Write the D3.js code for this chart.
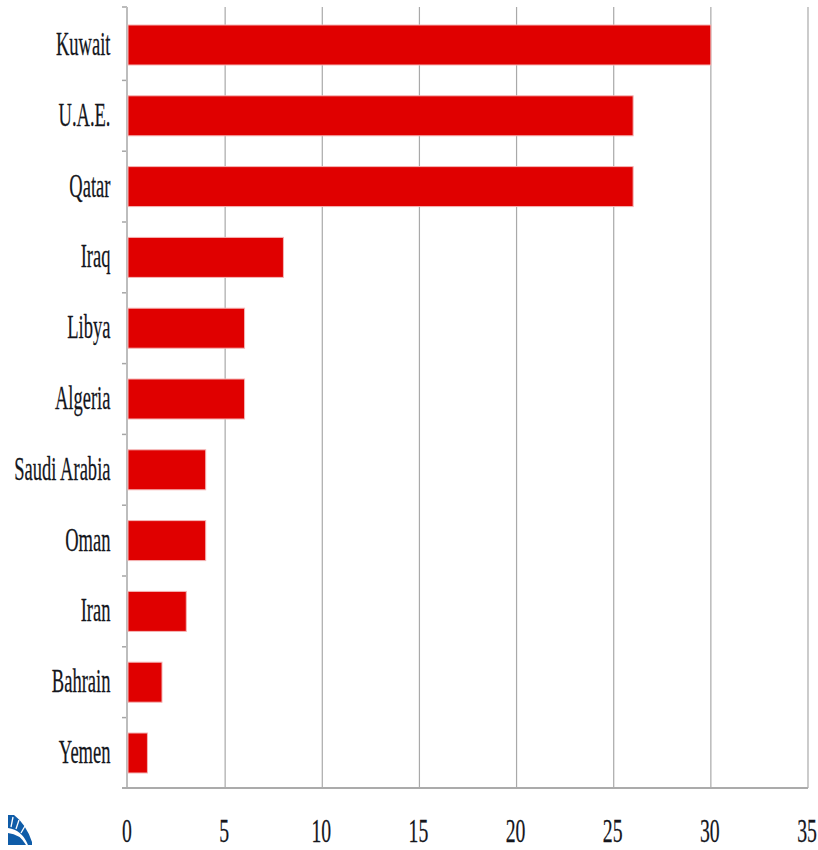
<!DOCTYPE html>
<html>
<head>
<meta charset="utf-8">
<script src="https://cdn.jsdelivr.net/npm/d3@7"></script>
<style>
  html, body { margin: 0; padding: 0; background: #fff; }
  svg { display: block; }
  text { font-family: "Liberation Serif", serif; fill: #14161c; stroke: #14161c; stroke-width: 0.25; }
</style>
</head>
<body>
<svg id="chart" width="818" height="850"></svg>
<script>
const countries = ["Kuwait", "U.A.E.", "Qatar", "Iraq", "Libya", "Algeria", "Saudi Arabia", "Oman", "Iran", "Bahrain", "Yemen"];
const values = [30, 26, 26, 8, 6, 6, 4, 4, 3, 1.75, 1];
const xTicks = [0, 5, 10, 15, 20, 25, 30, 35];

const svg = d3.select("#chart");
const plotTop = 7, plotBottom = 788;

const x = d3.scaleLinear().domain([0, 35]).range([128, 808]);
const y = d3.scaleBand().domain(countries).range([9.6, 788.4]).paddingInner(0.435).paddingOuter(0.2175);

// Vertical gridlines
svg.append("g").selectAll("line").data(xTicks.slice(1)).join("line")
  .attr("x1", d => x(d)).attr("x2", d => x(d))
  .attr("y1", plotTop).attr("y2", plotBottom)
  .attr("stroke", "#a9a9a9").attr("stroke-width", 1.2);

// Category axis line and the ticks between bands
const bandEdges = countries.slice(1).map(c => y(c) - y.step() * y.paddingInner() / 2);
svg.append("g").selectAll("line").data([plotTop, ...bandEdges]).join("line")
  .attr("x1", 122).attr("x2", 127)
  .attr("y1", d => d).attr("y2", d => d)
  .attr("stroke", "#a6a6a6").attr("stroke-width", 1.5);
svg.append("line")
  .attr("x1", 127).attr("x2", 127).attr("y1", plotTop).attr("y2", plotBottom)
  .attr("stroke", "#bdbdbd").attr("stroke-width", 2);
svg.append("line")
  .attr("x1", 122).attr("x2", x(35)).attr("y1", plotBottom).attr("y2", plotBottom)
  .attr("stroke", "#ababab").attr("stroke-width", 2);

// Bars with a pale pink edge
svg.append("g").selectAll("rect").data(values).join("rect")
  .attr("x", x(0))
  .attr("y", (d, i) => y(countries[i]))
  .attr("width", d => x(d) - x(0))
  .attr("height", y.bandwidth())
  .attr("fill", "#e00000")
  .attr("stroke", "#f4b6b6").attr("stroke-width", 1);

// Category labels, set in a tall narrow serif
svg.append("g").selectAll("text").data(countries).join("text")
  .attr("transform", d => `translate(110.5,${y(d) + y.bandwidth() / 2 + 10}) scale(0.545,1)`)
  .attr("text-anchor", "end")
  .attr("font-size", 34)
  .text(d => d);

// Value axis labels
svg.append("g").selectAll("text").data(xTicks).join("text")
  .attr("transform", d => `translate(${x(d) - 1},842) scale(0.58,1)`)
  .attr("text-anchor", "middle")
  .attr("font-size", 34)
  .text(d => d);

// Clipped publisher emblem in the lower left corner
const emblem = svg.append("g").attr("fill", "#0f5ca8");
emblem.append("path").attr("d", "M8 845 L8 833 Q20 834 26 845 Z");
emblem.append("path").attr("d", "M8 815 L14 815 Q26 824 32 842 L32 845 L28 845 Q22 830 8 828 Z");
const stripes = emblem.append("g").attr("stroke", "#fff").attr("stroke-width", 1.3);
stripes.append("line").attr("x1", 11).attr("y1", 827).attr("x2", 13).attr("y2", 817);
stripes.append("line").attr("x1", 16).attr("y1", 829).attr("x2", 19).attr("y2", 820);
stripes.append("line").attr("x1", 21).attr("y1", 833).attr("x2", 25).attr("y2", 826);
</script>
</body>
</html>
